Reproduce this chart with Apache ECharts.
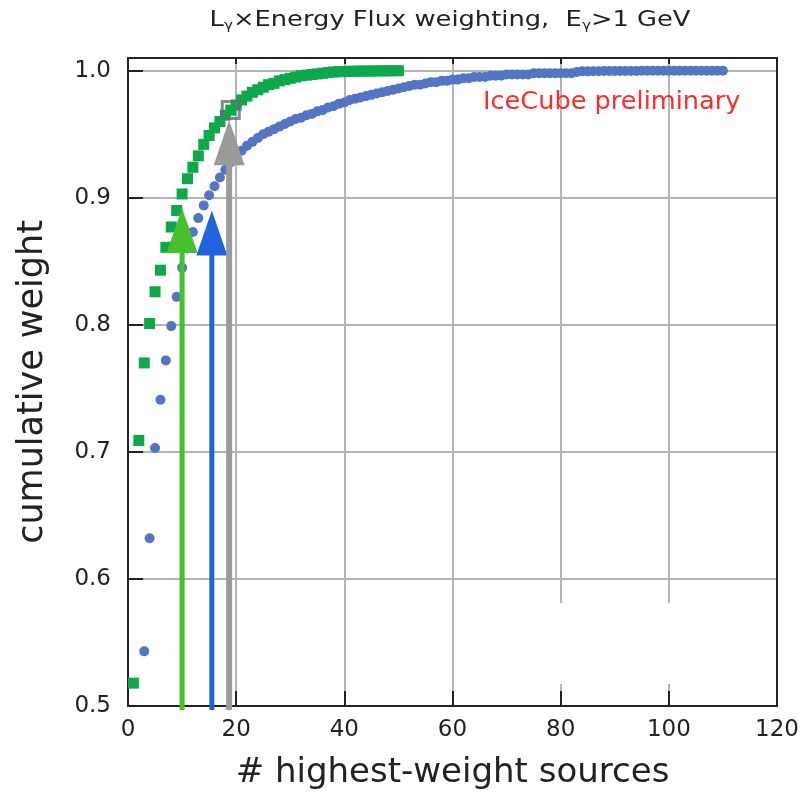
<!DOCTYPE html>
<html><head><meta charset="utf-8">
<script src="https://cdn.jsdelivr.net/npm/echarts@6/dist/echarts.min.js"></script>
<style>html,body{margin:0;padding:0;background:#fff}#c{width:804px;height:795px}</style>
</head><body><div id="c"></div>
<script>
// ---- data ----
const titleText = 'L{g|γ}×Energy Flux weighting,  E{g|γ}>1 GeV';
const xName = '# highest-weight sources';
const yName = 'cumulative weight';
const noteText = 'IceCube preliminary';
const xTicks = [0, 20, 40, 60, 80, 100, 120];
const yTicks = [0.5, 0.6, 0.7, 0.8, 0.9, 1.0];

const greenStart = 1;
const greenY = [
  0.518, 0.709, 0.770, 0.801, 0.826, 0.843, 0.861, 0.877, 0.890, 0.903,
  0.915, 0.924, 0.933, 0.942, 0.949, 0.955, 0.960, 0.965, 0.969, 0.973,
  0.977, 0.980, 0.983, 0.985, 0.987, 0.989, 0.990, 0.992, 0.993, 0.994,
  0.995, 0.996, 0.9965, 0.997, 0.9975, 0.998, 0.9985, 0.999, 0.9992, 0.9994,
  0.9995, 0.9996, 0.9997, 0.9997, 0.9998, 0.9998, 0.9999, 0.9999, 1.0, 1.0
];
const blueStart = 3;
const blueY = [
  0.543, 0.632, 0.703, 0.741, 0.772, 0.799, 0.822, 0.845,
  0.860, 0.873, 0.884, 0.894, 0.902, 0.909, 0.916, 0.922, 0.928, 0.933,
  0.937, 0.941, 0.944, 0.947, 0.950, 0.952, 0.954, 0.956, 0.958, 0.960,
  0.962, 0.963, 0.965, 0.966, 0.968, 0.969, 0.971, 0.972, 0.974, 0.975,
  0.977, 0.978, 0.979, 0.980, 0.981, 0.982, 0.983, 0.984, 0.985, 0.986,
  0.987, 0.988, 0.989, 0.989, 0.990, 0.991, 0.991, 0.992, 0.992, 0.993,
  0.993, 0.994, 0.994, 0.995, 0.995, 0.995, 0.996, 0.996, 0.996, 0.997,
  0.997, 0.997, 0.997, 0.997, 0.998, 0.998, 0.998, 0.998, 0.998, 0.998,
  0.998, 0.998, 0.999, 0.9995, 0.9995, 0.9996, 0.9996, 0.9997, 0.9997, 0.9997,
  0.9998, 0.9998, 0.9998, 0.9998, 0.9999, 0.9999, 0.9999, 0.9999, 0.9999, 0.9999,
  1.0, 1.0, 1.0, 1.0, 1.0, 1.0, 1.0, 1.0, 1.0, 1.0
];
const arrowX = [10, 15.5, 18.7];
const arrowTipY = [0.892, 0.890, 0.961];
const highlightPoint = [19, 0.969];

// ---- styles ----
const FONT = 'DejaVu Sans';
const green = '#0ca84a', blue = '#5275c4';
const arrowColors = ['#46c02d', '#1f64dc', '#9a9a9a'];
const arrowWidths = [5, 5, 6];

const greenData = greenY.map((v, i) => [greenStart + i, v]);
const blueData = blueY.map((v, i) => [blueStart + i, v]);
const arrowData = arrowX.map((x, i) => [x, arrowTipY[i]]);

const chart = echarts.init(document.getElementById('c'), null, {renderer: 'canvas'});
const yFmt = v => yTicks.some(t => Math.abs(t - v) < 1e-6) ? v.toFixed(1) : '';
const xFmt = v => xTicks.includes(v) ? String(v) : '';

const option = {
  backgroundColor: '#fff',
  animation: false,
  grid: {left: 128, right: 27, top: 58, bottom: 89, containLabel: false},
  xAxis: [{
    type: 'value', min: 0, max: 120, interval: 20, position: 'bottom',
    name: xName, nameLocation: 'middle', nameGap: 50,
    nameTextStyle: {fontFamily: FONT, fontSize: 34, color: '#222'},
    axisLine: {show: true, onZero: false, lineStyle: {color: '#222', width: 2}},
    axisTick: {show: true, inside: true, length: 15, lineStyle: {color: '#222', width: 2}},
    axisLabel: {fontFamily: FONT, fontSize: 23, color: '#222', margin: 13, formatter: xFmt},
    splitLine: {show: true, lineStyle: {color: '#b4b4b4', width: 2}}
  }, {
    type: 'value', min: 0, max: 120, interval: 20, position: 'top',
    axisLine: {show: true, onZero: false, lineStyle: {color: '#222', width: 2}},
    axisTick: {show: true, inside: true, length: 6, lineStyle: {color: '#222', width: 2}},
    axisLabel: {show: false}, splitLine: {show: false}
  }],
  yAxis: [{
    type: 'value', min: 0.5, max: 1.01, interval: 0.1, position: 'left',
    name: yName, nameLocation: 'middle', nameGap: 78,
    nameTextStyle: {fontFamily: FONT, fontSize: 35, color: '#222'},
    axisLine: {show: true, onZero: false, lineStyle: {color: '#222', width: 2}},
    axisTick: {show: true, inside: true, length: 15, lineStyle: {color: '#222', width: 2}},
    axisLabel: {fontFamily: FONT, fontSize: 23, color: '#222', margin: 17, formatter: yFmt},
    splitLine: {show: true, lineStyle: {color: '#b4b4b4', width: 2}}
  }, {
    type: 'value', min: 0.5, max: 1.01, interval: 0.1, position: 'right',
    axisLine: {show: true, onZero: false, lineStyle: {color: '#222', width: 2}},
    axisTick: {show: false},
    axisLabel: {show: false}, splitLine: {show: false}
  }],
  graphic: [
    {type: 'rect', z: 1, shape: {x: 500, y: 603, width: 275, height: 81}, style: {fill: '#fff'}, silent: true},
    {type: 'text', z: 5, x: 450, y: 20, scaleX: 1.17, style: {
      text: titleText, fontFamily: FONT, fontSize: 22, fill: '#222',
      align: 'center', verticalAlign: 'middle',
      rich: {g: {fontFamily: FONT, fontSize: 13, fill: '#222', verticalAlign: 'bottom', padding: [11, 0, 0, 0]}}
    }},
    {type: 'text', z: 5, x: 483, y: 102, style: {
      text: noteText, fontFamily: FONT, fontSize: 25.6, fill: '#ff2a2a',
      align: 'left', verticalAlign: 'middle'
    }}
  ],
  series: [
    {type: 'scatter', name: 'blue', data: blueData, symbol: 'circle', symbolSize: 10,
     itemStyle: {color: blue, opacity: 1}, z: 3},
    {type: 'scatter', name: 'green', data: greenData, symbol: 'rect', symbolSize: 11,
     itemStyle: {color: green, opacity: 1}, z: 4},
    {type: 'custom', name: 'arrows', data: arrowData, z: 5, clip: false,
     renderItem: (params, api) => {
       const i = params.dataIndex;
       const x = api.value(0), tip = api.value(1);
       const pb = api.coord([x, 0.5]);
       const pt = api.coord([x, tip]);
       const headH = 45, headW = 31;
       const c = arrowColors[i];
       return {type: 'group', children: [
         {type: 'line', shape: {x1: pb[0], y1: pb[1] + 4, x2: pt[0], y2: pt[1] + headH - 2},
          style: {stroke: c, lineWidth: arrowWidths[i]}},
         {type: 'polygon', shape: {points: [[pt[0], pt[1]], [pt[0] - headW / 2, pt[1] + headH], [pt[0] + headW / 2, pt[1] + headH]]},
          style: {fill: c}}
       ]};
     }},
    {type: 'scatter', name: 'highlight', data: [highlightPoint], symbol: 'rect', symbolSize: 17,
     itemStyle: {color: 'rgba(0,0,0,0)', borderColor: '#676b78', borderWidth: 3}, z: 6}
  ]
};
chart.setOption(option);
</script>
</body></html>
